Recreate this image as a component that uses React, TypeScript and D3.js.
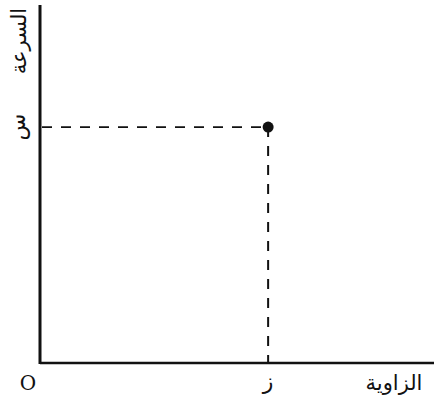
import React from "react";
import * as d3 from "d3";

const axisLabels = ["الزاوية", "السرعة"];
const pointLabels = ["ز", "س"];
const originLabel = ["O"];
const pointX = [0.579];
const pointY = [0.659];

export default function App() {
  const W = 436, H = 397;
  const x = d3.scaleLinear().domain([0, 1]).range([40, 434]);
  const y = d3.scaleLinear().domain([0, 1]).range([363, 5]);
  const px = x(pointX[0]);
  const py = y(pointY[0]);
  const font = "'DejaVu Serif', 'Liberation Serif', serif";
  const ar = "'Noto Sans', 'DejaVu Sans', sans-serif";
  return (
    <svg width={W} height={H} style={{ position: "absolute", left: 0, top: 0, background: "#fff" }}>
      <line x1={x(0)} y1={y(1)} x2={x(0)} y2={y(0) + 1} stroke="#111" strokeWidth={3} />
      <line x1={x(0)} y1={y(0)} x2={x(1)} y2={y(0)} stroke="#111" strokeWidth={2.5} />
      <line x1={x(0) + 2} y1={py} x2={px} y2={py} stroke="#111" strokeWidth={1.6} strokeDasharray="10,9" />
      <line x1={px} y1={py} x2={px} y2={y(0)} stroke="#111" strokeWidth={2} strokeDasharray="10,9" />
      <circle cx={px} cy={py} r={5.5} fill="#111" />
      <text x={28} y={390} fontFamily={font} fontSize={20} textAnchor="middle" fill="#111">{originLabel[0]}</text>
      <text x={px} y={389} fontFamily={ar} fontSize={22} textAnchor="middle" fill="#111">{pointLabels[0]}</text>
      <text x={394} y={390} fontFamily={ar} fontSize={21} textAnchor="middle" fill="#111">{axisLabels[0]}</text>
      <text transform={`translate(26,41) rotate(-90)`} fontFamily={ar} fontSize={21} textAnchor="middle" fill="#111">{axisLabels[1]}</text>
      <text transform={`translate(25,${py}) rotate(-90)`} fontFamily={ar} fontSize={22} textAnchor="middle" fill="#111">{pointLabels[1]}</text>
    </svg>
  );
}
